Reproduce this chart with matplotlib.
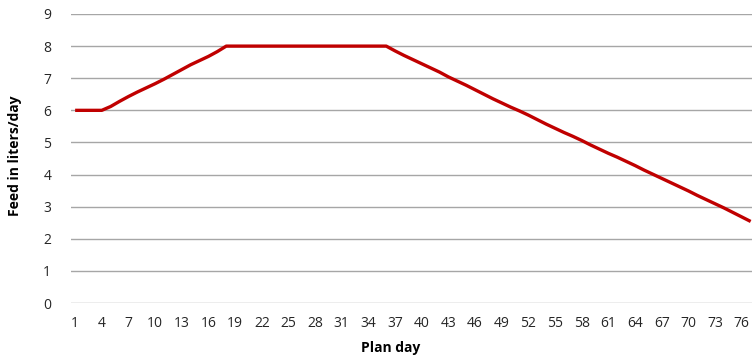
import matplotlib.pyplot as plt

days = list(range(1, 78))
feed = [6.0, 6.0, 6.0, 6.0, 6.12, 6.28, 6.43, 6.57, 6.70, 6.83,
        6.97, 7.12, 7.27, 7.42, 7.55, 7.68, 7.83, 8.0, 8.0, 8.0,
        8.0, 8.0, 8.0, 8.0, 8.0, 8.0, 8.0, 8.0, 8.0, 8.0,
        8.0, 8.0, 8.0, 8.0, 8.0, 8.0, 7.85, 7.71, 7.58, 7.45,
        7.32, 7.19, 7.04, 6.91, 6.78, 6.64, 6.50, 6.36, 6.23, 6.10,
        5.98, 5.85, 5.71, 5.57, 5.44, 5.31, 5.19, 5.06, 4.92, 4.79,
        4.66, 4.54, 4.41, 4.28, 4.14, 4.01, 3.88, 3.75, 3.62, 3.49,
        3.35, 3.22, 3.09, 2.96, 2.82, 2.68, 2.54]
xticks = days[::3]
yticks = list(range(0, 10))

plt.rcParams['font.family'] = ['Open Sans', 'DejaVu Sans']

fig = plt.figure(figsize=(7.52, 3.58), dpi=100)
ax = fig.add_axes([0.094, 0.1536, 0.906, 0.8073])

ax.plot(days, feed, color='#C00000', linewidth=2.4, solid_capstyle='butt')

ax.set_xlim(0.5, 77.15)
ax.set_ylim(0, 9)
ax.set_xticks(xticks)
ax.set_yticks(yticks)
ax.tick_params(length=0, labelsize=10, colors='#262626')
ax.tick_params(axis='x', pad=9)
ax.tick_params(axis='y', pad=14)
ax.grid(axis='y', color='#A6A6A6', linewidth=1)
ax.set_axisbelow(True)
for s in ax.spines.values():
    s.set_visible(False)

ax.set_xlabel('Plan day', fontsize=10, fontweight='bold')
ax.set_ylabel('Feed in liters/day', fontsize=10, fontweight='bold')
ax.xaxis.set_label_coords(0.469, -0.13)
ax.yaxis.set_label_coords(-0.072, 0.51)

fig.savefig('out.png', dpi=100)
